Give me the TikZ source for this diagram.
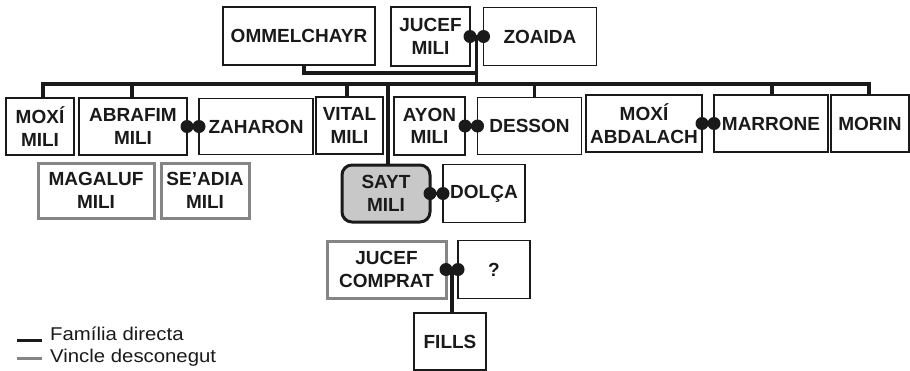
\documentclass[tikz,border=0pt]{standalone}
\usepackage{fontspec}
\setmainfont{Liberation Sans}
\newfontfamily\legendfont[FakeStretch=1.1]{Liberation Sans}
\usetikzlibrary{positioning,calc}
\definecolor{tinta}{HTML}{1A1A1A}
\definecolor{grisvora}{HTML}{858585}
\definecolor{grisfons}{HTML}{C8C8C8}
\tikzset{main base/.style={draw=tinta,text=tinta,align=center,inner sep=0pt,outer sep=0pt,
    font=\bfseries\fontsize{19}{22.5}\selectfont}, }
\tikzset{persona/.style={rectangle,main base,line width=1.3pt,minimum height=57pt}, }
\tikzset{desconegut/.style={persona,draw=grisvora,line width=3pt}, }
\tikzset{jo/.style={persona,fill=grisfons,line width=3pt,rounded corners=10pt}, }
\tikzset{linea/.style={draw=tinta,line width=3.2pt}}
\tikzset{linea2/.style={draw=grisvora,line width=3pt}}
\tikzset{anella/.style={fill=tinta}}
\tikzset{llegenda/.style={anchor=base west,inner sep=0pt,text=tinta,
    font=\legendfont\fontsize{18.5}{20}\selectfont}, }

\begin{document}
\begin{tikzpicture}[x=1pt,y=-1pt]
  \useasboundingbox (0,0) rectangle (910,370);
  % pares
  \node[persona,minimum width=152,minimum height=58] (ommel) at (299,36) {OMMELCHAYR};
  \node[persona,minimum width=79,minimum height=59] (jucef) at (430.5,36.5) {JUCEF\\MILI};
  \node[persona,minimum width=113,minimum height=58] (zoaida) [right=13.5pt of jucef] {ZOAIDA};
  % fills
  \node[persona,minimum width=68] (moxi) at (40,126.5) {MOXÍ\\MILI};
  \node[persona,minimum width=108] (abrafim) at (133,126.5) {ABRAFIM\\MILI};
  \node[persona,minimum width=114,minimum height=56] (zaharon) [right=12pt of abrafim] {ZAHARON};
  \node[persona,minimum width=67] (vital) at (349.5,125.5) {VITAL\\MILI};
  \node[persona,minimum width=71,minimum height=58] (ayon) at (429.5,126) {AYON\\MILI};
  \node[persona,minimum width=104] (desson) [right=12.5pt of ayon] {DESSON};
  \node[persona,minimum width=116] (abdalach) at (644,123.5) {MOXÍ\\ABDALACH};
  \node[persona,minimum width=114] (marrone) [right=12pt of abdalach] {MARRONE};
  \node[persona,minimum width=78] (morin) [right=3pt of marrone] {MORIN};
  % net
  \node[desconegut,minimum width=116,minimum height=55] (magaluf) at (96,190.5) {MAGALUF\\MILI};
  \node[desconegut,minimum width=88,minimum height=55] (seadia) [right=7pt of magaluf] {SE'ADIA\\MILI};
  \node[jo,minimum width=88] (sayt) at (386,193.5) {SAYT\\MILI};
  \node[persona,minimum width=82,minimum height=58] (dolca) [right=13pt of sayt] {DOLÇA};
  \node[desconegut,minimum width=119] (comprat) at (386.5,269.5) {JUCEF\\COMPRAT};
  \node[persona,minimum width=72,minimum height=58] (unk) [right=12pt of comprat] {?};
  \node[persona,minimum width=72] (fills) at (450,341.5) {FILLS};

  \path (jucef.east) -- coordinate[midway] (nuvi) (zoaida.west);
  \path (comprat.east) -- coordinate[midway] (nuvi2) (unk.west);
  \coordinate (fillada) at (nuvi |- 0,84);
  \coordinate (unio) at (nuvi |- 0,73);

  \draw[linea] (nuvi) -- (fillada);
  \draw[linea] ([xshift=5pt]ommel.south) |- (unio);
  \foreach \f/\dx in {moxi/3,abrafim/-1,vital/-2.5,sayt/2,desson/5,marrone/1,morin/-1}
    \draw[linea] (fillada) -| ([xshift=\dx pt]\f.north);
  \draw[linea] (nuvi2) -- (nuvi2 |- fills.north);
  \foreach \a/\b in {jucef/zoaida,abrafim/zaharon,ayon/desson,abdalach/marrone,sayt/dolca,comprat/unk}{
    \draw[linea] (\a.east) -- (\b.west);
    \fill[anella] (\a.east) circle (6.5pt) (\b.west) circle (6.5pt);
  }

  % llegenda
  \node[llegenda] (ley1) at (50,340) {Família directa};
  \node[llegenda] (ley2) at (50,362) {Vincle desconegut};
  \draw[linea,line width=3pt] ([xshift=-8pt]ley1.base west) -- ++(-25,0);
  \draw[linea2] ([xshift=-8pt,yshift=4pt]ley2.base west) -- ++(-25,0);
\end{tikzpicture}
\end{document}
